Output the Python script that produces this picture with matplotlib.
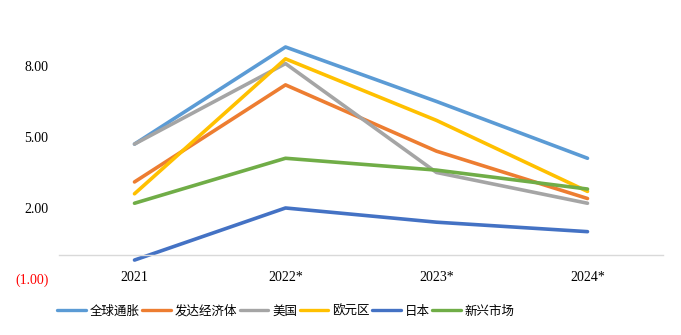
import matplotlib.pyplot as plt

# Inflation forecasts (%), by region
years = ["2021", "2022*", "2023*", "2024*"]
global_cpi = [4.7, 8.8, 6.5, 4.1]
advanced = [3.1, 7.2, 4.4, 2.4]
usa = [4.7, 8.1, 3.5, 2.2]
euro = [2.6, 8.3, 5.7, 2.7]
japan = [-0.2, 2.0, 1.4, 1.0]
emerging = [2.2, 4.1, 3.6, 2.8]

names = ["全球通胀", "发达经济体", "美国", "欧元区", "日本", "新兴市场"]
colors = ["#5B9BD5", "#ED7D31", "#A5A5A5", "#FFC000", "#4472C4", "#70AD47"]
series = [global_cpi, advanced, usa, euro, japan, emerging]

fig = plt.figure(figsize=(6.81, 3.35), dpi=100)
ax = fig.add_axes([59/681, 1 - 279/335, 604/681, (279 - 18.6)/335])

x = range(len(years))
for vals, name, c in zip(series, names, colors):
    ax.plot(x, vals, color=c, lw=2.6, label=name, solid_capstyle="round")

# zero line as the x axis (set before tick labels, it resets them)
for s in ["top", "right", "left"]:
    ax.spines[s].set_visible(False)
ax.spines["bottom"].set_position(("data", 0))
ax.spines["bottom"].set_color("#D9D9D9")
ax.spines["bottom"].set_linewidth(1)

ax.set_xlim(-0.5, 3.5)
ax.set_ylim(-1, 10)
ax.set_yticks([-1, 2, 5, 8])
ax.set_yticklabels(["(1.00)", "2.00", "5.00", "8.00"], family="Liberation Serif", fontsize=10)
ax.get_yticklabels()[0].set_color("red")
ax.set_xticks(list(x))
ax.set_xticklabels(years, family="Liberation Serif", fontsize=10)
ax.tick_params(axis="y", length=0, pad=7.5)
ax.tick_params(axis="x", length=0, pad=11)

leg = fig.legend(loc="center left", bbox_to_anchor=(52/681, 1 - 311/335), ncol=6,
                 frameon=False, prop={"family": ["Noto Sans CJK SC", "DejaVu Sans"], "size": 9},
                 handlelength=2.3, handletextpad=0.3, columnspacing=0.2, borderaxespad=0)
for h in leg.get_lines():
    h.set_linewidth(2.4)

fig.savefig("out.png", dpi=100)
